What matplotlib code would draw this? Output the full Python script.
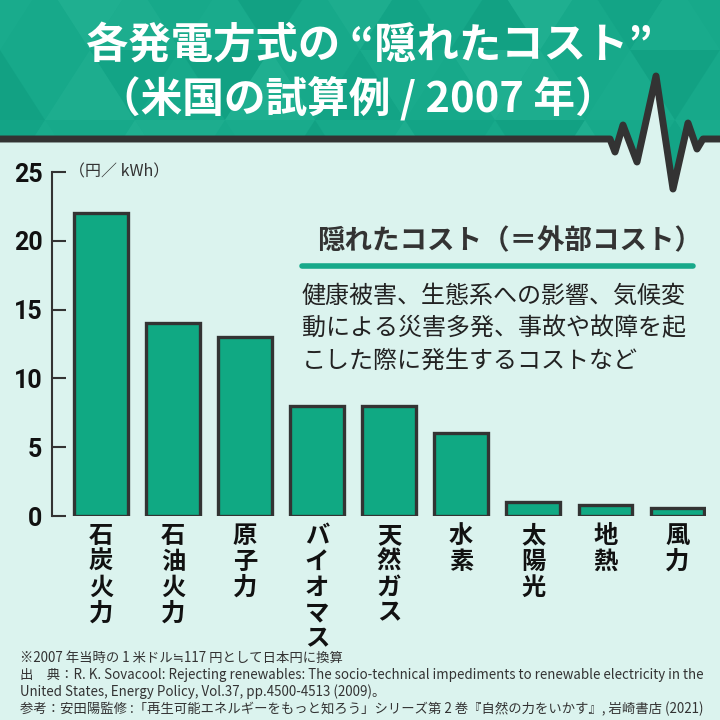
import matplotlib
matplotlib.use("Agg")
import matplotlib.pyplot as plt
from matplotlib.patches import Polygon

plt.rcParams['font.family'] = ['Noto Sans CJK JP', 'DejaVu Sans']

# データ（円／kWh）
categories = ["石炭火力", "石油火力", "原子力", "バイオマス", "天然ガス", "水素", "太陽光", "地熱", "風力"]
costs = [22, 14, 13, 8, 8, 6, 1.0, 0.8, 0.55]
yticks = [0, 5, 10, 15, 20, 25]

title1 = "各発電方式の “隠れたコスト”"
title2 = "（米国の試算例 / 2007 年）"
box_title = "隠れたコスト（＝外部コスト）"
box_lines = ["健康被害、生態系への影響、気候変",
             "動による災害多発、事故や故障を起",
             "こした際に発生するコストなど"]
notes = ["※2007 年当時の 1 米ドル≒117 円として日本円に換算",
         "出　典：R. K. Sovacool: Rejecting renewables: The socio-technical impediments to renewable electricity in the",
         "United States, Energy Policy, Vol.37, pp.4500-4513 (2009)。",
         "参考：安田陽監修 :「再生可能エネルギーをもっと知ろう」シリーズ第 2 巻『自然の力をいかす』, 岩崎書店 (2021)"]

BG = '#dbf3ee'
TEAL = '#17a98a'
BAR = '#10a983'
DARK = '#333333'

fig = plt.figure(figsize=(7.2, 7.2), dpi=100, facecolor=BG)

# 背景（ピクセル座標）
bg = fig.add_axes([0, 0, 1, 1], zorder=0)
bg.set_xlim(0, 720)
bg.set_ylim(720, 0)
bg.axis('off')

pulse = [(0, 139), (610, 139), (615, 152), (623, 125), (637, 162), (656, 76),
         (673, 189), (688, 123), (697, 149), (703, 139), (720, 139)]
header = [(0, 0), (720, 0)] + pulse[::-1]
bg.add_patch(Polygon(header, closed=True, facecolor=TEAL, edgecolor='none'))

# 三角形の模様
shades = ['#22b193', '#10a083', '#1cad8f', '#0e9c7f', '#27b596']
tw, th = 90, 70
k = 0
for row in range(3):
    y0 = row * th - 20
    for col in range(-1, 10):
        x0 = col * tw + (tw / 2 if row % 2 else 0)
        tri_up = [(x0, y0 + th), (x0 + tw / 2, y0), (x0 + tw, y0 + th)]
        tri_dn = [(x0 + tw / 2, y0), (x0 + tw, y0 + th), (x0 + tw * 1.5, y0)]
        for tri in (tri_up, tri_dn):
            k += 1
            if k % 3 == 0:
                continue
            p = Polygon(tri, closed=True, facecolor=shades[k % 5], edgecolor='none', alpha=0.55)
            bg.add_patch(p)
            p.set_clip_path(bg.patches[0])

px, py = zip(*pulse)
bg.plot(px, py, color=DARK, lw=5, solid_joinstyle='round', solid_capstyle='round')

bg.text(369, 46, title1, color='white', fontsize=30.5, fontweight='bold', ha='center', va='center')
bg.text(358, 98, title2, color='white', fontsize=30, fontweight='bold', ha='center', va='center')

# 囲み説明
bg.text(317, 241, box_title, color=DARK, fontsize=19.8, fontweight='bold', ha='left', va='center')
bg.plot([302, 693], [266, 266], color=TEAL, lw=4, solid_capstyle='round')
for i, line in enumerate(box_lines):
    bg.text(302, 296 + i * 32.5, line, color='#222222', fontsize=17.3, ha='left', va='center')

for i, line in enumerate(notes):
    bg.text(20, 658 + i * 17, line, color=DARK, fontsize=9.6, ha='left', va='center')

# グラフ
ax = fig.add_axes([52 / 720, (720 - 516) / 720, (706 - 52) / 720, (516 - 172) / 720], zorder=2)
ax.patch.set_alpha(0)
x = list(range(len(categories)))
ax.bar(x, costs, width=0.74, color=BAR, edgecolor=DARK, linewidth=2.4, zorder=3)
ax.set_xlim(-0.68, 8.4)
ax.set_ylim(0, 25)
ax.set_yticks(yticks)
ax.set_xticks([])
for s in ['top', 'right', 'bottom']:
    ax.spines[s].set_visible(False)
ax.spines['left'].set_color(DARK)
ax.spines['left'].set_linewidth(1.5)
ax.tick_params(axis='y', direction='in', length=10, width=1.5, color=DARK, pad=7,
               labelsize=18, labelcolor='#111111')
for lab in ax.get_yticklabels():
    lab.set_fontweight('bold')
    lab.set_family(['Roboto', 'DejaVu Sans'])

ax.annotate("（円／ kWh）", xy=(0, 25), xycoords=('axes fraction', 'data'),
            xytext=(12, 0), textcoords='offset points', fontsize=11.5, color=DARK,
            ha='left', va='center')

for xi, name in zip(x, categories):
    ax.annotate("\n".join(name), xy=(xi, 0), xytext=(0, -6), textcoords='offset points',
                ha='center', va='top', fontsize=17.5, fontweight='bold', color='#111111',
                linespacing=1.085, annotation_clip=False)

fig.savefig("out.png", dpi=100, facecolor=BG)
